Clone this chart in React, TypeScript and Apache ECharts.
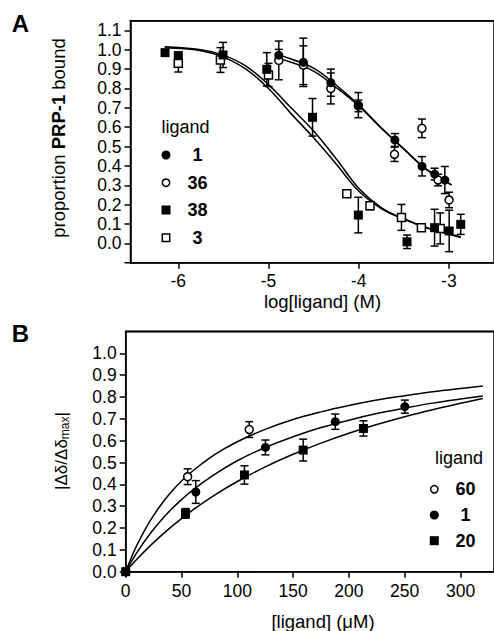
import React, { useEffect, useRef } from "react";
import * as echarts from "echarts";

// ---------- Panel A data (log[ligand] (M) vs proportion PRP-1 bound) ----------
const A_X_RANGE = [-6.53, -2.5];
const A_Y_RANGE = [-0.1, 1.15];
const A_X_TICKS = [-6, -5, -4, -3];
const A_Y_TICKS = [0, 0.1, 0.2, 0.3, 0.4, 0.5, 0.6, 0.7, 0.8, 0.9, 1.0, 1.1];

const A_L1_X = [-4.886, -4.614, -4.309, -4.004, -3.599, -3.298, -3.158, -3.045];
const A_L1_Y = [0.972, 0.935, 0.83, 0.714, 0.534, 0.398, 0.358, 0.327];
const A_L1_E = [0.03, 0.125, 0.07, 0.065, 0.033, 0.05, 0.03, 0.07];

const A_L36_X = [-4.886, -4.614, -4.309, -4.004, -3.603, -3.299, -3.12, -2.998];
const A_L36_Y = [0.945, 0.92, 0.8, 0.71, 0.46, 0.594, 0.327, 0.224];
const A_L36_E = [0.1, 0.1, 0.08, 0.03, 0.037, 0.048, 0.03, 0.04];

const A_L38_X = [-6.147, -6.0, -5.504, -5.019, -4.512, -4.004, -3.464, -3.159, -2.997, -2.869];
const A_L38_Y = [0.985, 0.969, 0.973, 0.899, 0.651, 0.146, 0.008, 0.081, 0.064, 0.098];
const A_L38_E = [0.01, 0.02, 0.065, 0.086, 0.097, 0.092, 0.035, 0.095, 0.107, 0.052];

const A_L3_X = [-6.0, -5.533, -5.0, -4.132, -3.875, -3.526, -3.305, -3.096];
const A_L3_Y = [0.93, 0.947, 0.87, 0.256, 0.194, 0.134, 0.081, 0.077];
const A_L3_E = [0.045, 0.064, 0.06, 0, 0.02, 0.067, 0.01, 0.08];

// fitted curves
const A_FIT1_X = [-4.93, -4.75, -4.5, -4.25, -4.0, -3.75, -3.5, -3.25, -3.0, -2.97];
const A_FIT1_Y = [0.98, 0.952, 0.905, 0.818, 0.715, 0.597, 0.488, 0.382, 0.31, 0.302];
const A_FIT36_X = [-4.93, -4.75, -4.5, -4.25, -4.0, -3.75, -3.5, -3.25, -3.0, -2.97];
const A_FIT36_Y = [0.962, 0.935, 0.89, 0.805, 0.71, 0.595, 0.487, 0.382, 0.31, 0.302];
const A_FIT38_X = [-6.15, -5.75, -5.5, -5.25, -5.0, -4.75, -4.5, -4.25, -4.0, -3.75, -3.5, -3.25, -3.0, -2.87];
const A_FIT38_Y = [1.01, 0.995, 0.962, 0.9, 0.8, 0.67, 0.545, 0.41, 0.27, 0.18, 0.125, 0.08, 0.047, 0.03];
const A_FIT3_X = [-6.15, -5.75, -5.5, -5.25, -5.0, -4.75, -4.5, -4.25, -4.0, -3.75, -3.5, -3.25, -3.0, -2.87];
const A_FIT3_Y = [1.015, 1.0, 0.972, 0.915, 0.82, 0.7, 0.58, 0.437, 0.285, 0.185, 0.127, 0.082, 0.05, 0.033];

// ---------- Panel B data ([ligand] (uM) vs |dd/ddmax|) ----------
const B_X_RANGE = [0, 330];
const B_Y_RANGE = [0, 1.1];
const B_X_TICKS = [0, 50, 100, 150, 200, 250, 300];
const B_Y_TICKS = [0, 0.1, 0.2, 0.3, 0.4, 0.5, 0.6, 0.7, 0.8, 0.9, 1.0];

const B_L60_X = [0, 55.5, 110.7];
const B_L60_Y = [0, 0.435, 0.651];
const B_L60_E = [0, 0.036, 0.036];

const B_L1_X = [0, 62.8, 125.2, 187.8, 250.1];
const B_L1_Y = [0, 0.365, 0.569, 0.687, 0.756];
const B_L1_E = [0, 0.052, 0.034, 0.035, 0.03];

const B_L20_X = [0, 53.6, 106.4, 159, 213];
const B_L20_Y = [0, 0.267, 0.443, 0.557, 0.656];
const B_L20_E = [0, 0.022, 0.042, 0.05, 0.035];

const B_FIT_X = [0, 5, 10, 20, 30, 40, 50, 60, 80, 100, 125, 150, 175, 200, 225, 250, 275, 300, 320];
const B_FIT60_Y = [0, 0.064, 0.121, 0.217, 0.295, 0.36, 0.415, 0.461, 0.537, 0.595, 0.652, 0.697, 0.732, 0.761, 0.786, 0.806, 0.824, 0.839, 0.85];
const B_FIT1_Y = [0, 0.045, 0.087, 0.161, 0.225, 0.281, 0.33, 0.374, 0.447, 0.508, 0.569, 0.618, 0.66, 0.694, 0.724, 0.749, 0.772, 0.791, 0.805];
const B_FIT20_Y = [0, 0.029, 0.057, 0.109, 0.157, 0.202, 0.243, 0.282, 0.352, 0.413, 0.48, 0.538, 0.589, 0.634, 0.674, 0.71, 0.742, 0.771, 0.793];

const FONT = "'Liberation Sans', Arial, sans-serif";

const zip2 = (xs: number[], ys: number[]) => xs.map((x, i) => [x, ys[i]]);
const zip3 = (xs: number[], ys: number[], es: number[]) => xs.map((x, i) => [x, ys[i], es[i]]);

function errSeries(idx: number, data: number[][]) {
  return {
    type: "custom",
    xAxisIndex: idx,
    yAxisIndex: idx,
    z: 3,
    silent: true,
    encode: { x: 0, y: 1 },
    data,
    renderItem: (_p: any, api: any) => {
      const x = api.value(0);
      const y = api.value(1);
      const e = api.value(2);
      if (!e) return { type: "group", children: [] };
      const t = api.coord([x, y + e]);
      const b = api.coord([x, y - e]);
      const st = () => ({ stroke: "#000", lineWidth: 1.5 });
      return {
        type: "group",
        children: [
          { type: "line", shape: { x1: t[0], y1: t[1], x2: b[0], y2: b[1] }, style: st() },
          { type: "line", shape: { x1: t[0] - 4, y1: t[1], x2: t[0] + 4, y2: t[1] }, style: st() },
          { type: "line", shape: { x1: b[0] - 4, y1: b[1], x2: b[0] + 4, y2: b[1] }, style: st() },
        ],
      };
    },
  };
}

// top border of a plot box, drawn through the axes' own scales
function frameSeries(idx: number, xr: number[], yr: number[]) {
  return {
    type: "custom",
    xAxisIndex: idx,
    yAxisIndex: idx,
    z: 5,
    silent: true,
    clip: false,
    encode: { x: 0, y: 1 },
    data: [[xr[0], yr[1]]],
    renderItem: (_p: any, api: any) => {
      const a = api.coord([xr[0], yr[1]]);
      const b = api.coord([xr[1], yr[1]]);
      return {
        type: "line",
        shape: { x1: a[0] - 0.75, y1: a[1], x2: b[0], y2: b[1] },
        style: { stroke: "#000", lineWidth: 1.5 },
      };
    },
  };
}

function pts(idx: number, data: number[][], symbol: string, filled: boolean, size: number) {
  return {
    type: "scatter",
    xAxisIndex: idx,
    yAxisIndex: idx,
    z: 4,
    symbol,
    symbolSize: size,
    data,
    silent: true,
    itemStyle: filled
      ? { color: "#000", borderColor: "#000", borderWidth: 0, opacity: 1 }
      : { color: "#fff", borderColor: "#000", borderWidth: 1.5, opacity: 1 },
  };
}

function fit(idx: number, data: number[][]) {
  return {
    type: "line",
    xAxisIndex: idx,
    yAxisIndex: idx,
    z: 2,
    showSymbol: false,
    smooth: 0.4,
    data,
    lineStyle: { color: "#000", width: 1.5 },
    silent: true,
  };
}

const AX_LINE = { show: true, onZero: false, lineStyle: { color: "#000", width: 1.5 } };

function bar(x: number, y: number, w: number, h: number) {
  return { type: "rect", shape: { x, y, width: w, height: h }, style: { fill: "#000" } };
}

function legendItems(x0: number, xn: number, rows: number[], items: { sym: string; filled: boolean; label: string }[], yTitle: number, xTitle: number) {
  const els: any[] = [
    {
      type: "text",
      x: xTitle,
      y: yTitle,
      style: { text: "ligand", font: `18px ${FONT}`, fill: "#000", textVerticalAlign: "middle", textAlign: "left" },
    },
  ];
  items.forEach((it, i) => {
    const y = rows[i];
    if (it.sym === "circle") {
      els.push({
        type: "circle",
        shape: { cx: x0, cy: y, r: it.filled ? 4.5 : 3.7 },
        style: it.filled ? { fill: "#000" } : { fill: "#fff", stroke: "#000", lineWidth: 1.5 },
      });
    } else {
      els.push({
        type: "rect",
        shape: it.filled ? { x: x0 - 4.5, y: y - 4.5, width: 9, height: 9 } : { x: x0 - 3.7, y: y - 3.7, width: 7.4, height: 7.4 },
        style: it.filled ? { fill: "#000" } : { fill: "#fff", stroke: "#000", lineWidth: 1.5 },
      });
    }
    els.push({
      type: "text",
      x: xn,
      y,
      style: { text: it.label, font: `bold 18px ${FONT}`, fill: "#000", textAlign: "center", textVerticalAlign: "middle" },
    });
  });
  return els;
}

export default function App() {
  const ref = useRef<HTMLDivElement>(null);
  useEffect(() => {
    if (!ref.current) return;
    const chart = echarts.init(ref.current, null, { renderer: "svg" });
    const tickFont = { color: "#000", fontFamily: FONT, fontSize: 17.5 };
    const tick = (vals: number[]) => ({ show: true, length: 6, customValues: vals, lineStyle: { color: "#000", width: 1.5 } });
    const option: any = {
      animation: false,
      grid: [
        { left: 130.5, top: 20.7, width: 365.4, height: 242, show: true, borderColor: "#000", borderWidth: 1.5 },
        { left: 125.7, top: 331.5, width: 370.7, height: 240.2, show: true, borderColor: "#000", borderWidth: 1.5 },
      ],
      xAxis: [
        {
          type: "value", gridIndex: 0, min: A_X_RANGE[0], max: A_X_RANGE[1], axisLine: AX_LINE, splitLine: { show: false },
          axisTick: tick(A_X_TICKS),
          axisLabel: { ...tickFont, margin: 9, customValues: A_X_TICKS, formatter: (v: number) => String(v) },
        },
        {
          type: "value", gridIndex: 1, min: B_X_RANGE[0], max: B_X_RANGE[1], axisLine: AX_LINE, splitLine: { show: false },
          axisTick: tick(B_X_TICKS),
          axisLabel: { ...tickFont, margin: 10, customValues: B_X_TICKS, formatter: (v: number) => String(v) },
        },
      ],
      yAxis: [
        {
          type: "value", gridIndex: 0, min: A_Y_RANGE[0], max: A_Y_RANGE[1], axisLine: AX_LINE, splitLine: { show: false },
          axisTick: tick(A_Y_TICKS),
          axisLabel: { ...tickFont, margin: 9, customValues: A_Y_TICKS, formatter: (v: number) => v.toFixed(1) },
        },
        {
          type: "value", gridIndex: 1, min: B_Y_RANGE[0], max: B_Y_RANGE[1], axisLine: AX_LINE, splitLine: { show: false },
          axisTick: tick(B_Y_TICKS),
          axisLabel: { ...tickFont, margin: 9, customValues: B_Y_TICKS, formatter: (v: number) => v.toFixed(1) },
        },
      ],
      series: [
        frameSeries(0, A_X_RANGE, A_Y_RANGE),
        fit(0, zip2(A_FIT1_X, A_FIT1_Y)),
        fit(0, zip2(A_FIT36_X, A_FIT36_Y)),
        fit(0, zip2(A_FIT38_X, A_FIT38_Y)),
        fit(0, zip2(A_FIT3_X, A_FIT3_Y)),
        errSeries(0, zip3(A_L3_X, A_L3_Y, A_L3_E)),
        errSeries(0, zip3(A_L38_X, A_L38_Y, A_L38_E)),
        errSeries(0, zip3(A_L36_X, A_L36_Y, A_L36_E)),
        errSeries(0, zip3(A_L1_X, A_L1_Y, A_L1_E)),
        pts(0, zip2(A_L3_X, A_L3_Y), "rect", false, 8),
        pts(0, zip2(A_L38_X, A_L38_Y), "rect", true, 9),
        pts(0, zip2(A_L36_X, A_L36_Y), "circle", false, 8),
        pts(0, zip2(A_L1_X, A_L1_Y), "circle", true, 9),

        frameSeries(1, B_X_RANGE, B_Y_RANGE),
        fit(1, zip2(B_FIT_X, B_FIT60_Y)),
        fit(1, zip2(B_FIT_X, B_FIT1_Y)),
        fit(1, zip2(B_FIT_X, B_FIT20_Y)),
        errSeries(1, zip3(B_L60_X, B_L60_Y, B_L60_E)),
        errSeries(1, zip3(B_L1_X, B_L1_Y, B_L1_E)),
        errSeries(1, zip3(B_L20_X, B_L20_Y, B_L20_E)),
        pts(1, zip2(B_L60_X, B_L60_Y), "circle", false, 8),
        pts(1, zip2(B_L1_X, B_L1_Y), "circle", true, 9),
        pts(1, zip2(B_L20_X, B_L20_Y), "rect", true, 9),
      ],
      graphic: [
        bar(129.8, 20, 364.2, 1.5),
        bar(125, 330.8, 369, 1.5),
        bar(124.5, 262, 6.5, 1.5),
        bar(120.5, 571, 5.5, 1.5),
        { type: "text", x: 20.5, y: 23, style: { text: "A", font: `bold 24px ${FONT}`, fill: "#000", textAlign: "center", textVerticalAlign: "middle" } },
        { type: "text", x: 20.5, y: 333, style: { text: "B", font: `bold 24px ${FONT}`, fill: "#000", textAlign: "center", textVerticalAlign: "middle" } },
        {
          type: "text", x: 58, y: 138, rotation: Math.PI / 2,
          style: {
            text: "proportion {b|PRP-1} bound",
            font: `18.5px ${FONT}`, fill: "#000", textAlign: "center", textVerticalAlign: "middle",
            rich: { b: { fontFamily: FONT, fontSize: 18.5, fontWeight: "bold", fill: "#000" } },
          },
        },
        { type: "text", x: 322.5, y: 301.7, style: { text: "log[ligand] (M)", font: `18.5px ${FONT}`, fill: "#000", textAlign: "center", textVerticalAlign: "middle" } },
        {
          type: "text", x: 61, y: 451, rotation: Math.PI / 2,
          style: {
            text: "|Δδ/Δδ{s|max}|",
            font: `17px ${FONT}`, fill: "#000", textAlign: "center", textVerticalAlign: "middle",
            rich: { s: { fontFamily: FONT, fontSize: 12, fill: "#000", padding: [8, 0, 0, 0] } },
          },
        },
        { type: "text", x: 323, y: 621, style: { text: "[ligand] (μM)", font: `18.5px ${FONT}`, fill: "#000", textAlign: "center", textVerticalAlign: "middle" } },
        ...legendItems(166, 197.5, [155, 182.7, 210, 237.7], [
          { sym: "circle", filled: true, label: "1" },
          { sym: "circle", filled: false, label: "36" },
          { sym: "rect", filled: true, label: "38" },
          { sym: "rect", filled: false, label: "3" },
        ], 126.7, 161.5),
        ...legendItems(434.3, 465.5, [489.3, 515, 540.7], [
          { sym: "circle", filled: false, label: "60" },
          { sym: "circle", filled: true, label: "1" },
          { sym: "rect", filled: true, label: "20" },
        ], 458, 435),
      ],
    };
    chart.setOption(option);
    return () => chart.dispose();
  }, []);
  return <div ref={ref} style={{ position: "absolute", left: 0, top: 0, width: 494, height: 631, background: "#fff" }} />;
}
